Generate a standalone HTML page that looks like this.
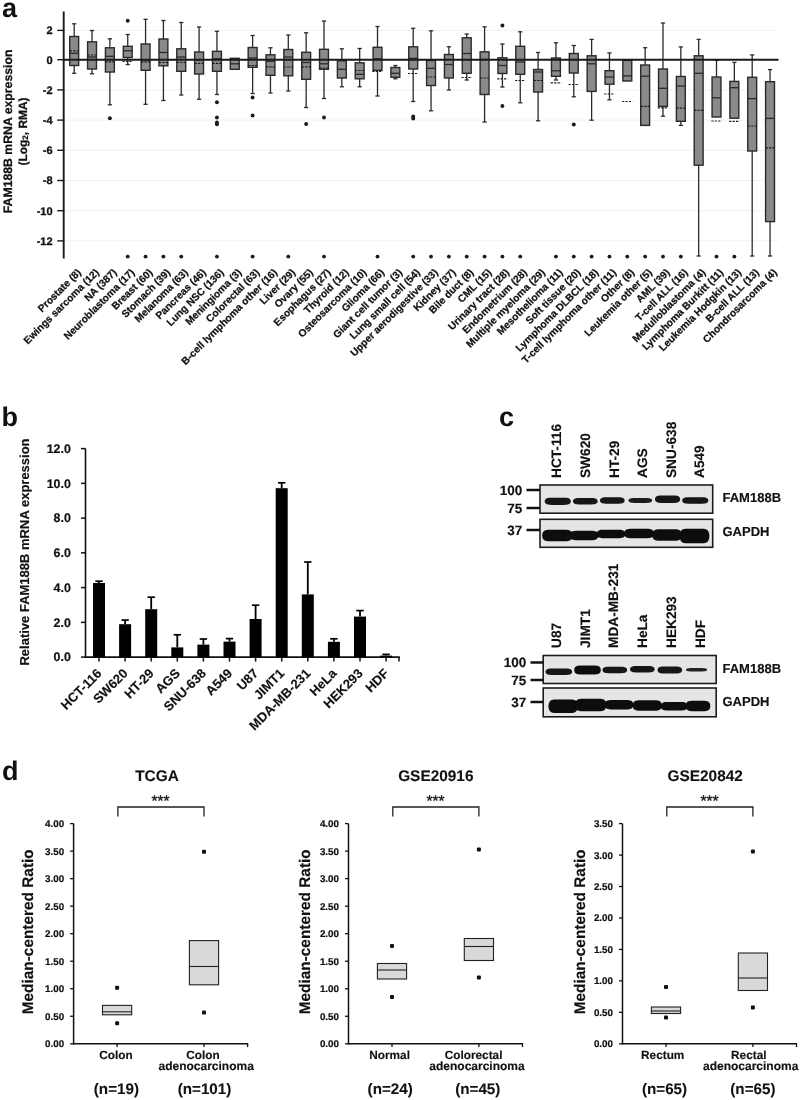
<!DOCTYPE html>
<html lang="en"><head><meta charset="utf-8"><title>FAM188B expression figure</title>
<style>
html,body{margin:0;padding:0;background:#fff;}
svg{display:block;font-family:'Liberation Sans', Arial, Helvetica, sans-serif;text-rendering:geometricPrecision;}
</style></head><body>
<svg width="800" height="1100" viewBox="0 0 800 1100">
<defs><filter id="bl" x="-10%" y="-30%" width="120%" height="160%"><feGaussianBlur stdDeviation="0.65"/></filter></defs>
<rect x="0" y="0" width="800" height="1100" fill="#ffffff"/>
<text x="2.00" y="17.20" font-size="27" font-weight="bold" text-anchor="start" fill="#111" >a</text>
<line x1="63.70" y1="30.40" x2="778.50" y2="30.40" stroke="#f1f1f1" stroke-width="1" />
<line x1="63.70" y1="89.90" x2="778.50" y2="89.90" stroke="#f1f1f1" stroke-width="1" />
<line x1="63.70" y1="120.10" x2="778.50" y2="120.10" stroke="#f1f1f1" stroke-width="1" />
<line x1="63.70" y1="150.30" x2="778.50" y2="150.30" stroke="#f1f1f1" stroke-width="1" />
<line x1="63.70" y1="180.50" x2="778.50" y2="180.50" stroke="#f1f1f1" stroke-width="1" />
<line x1="63.70" y1="210.70" x2="778.50" y2="210.70" stroke="#f1f1f1" stroke-width="1" />
<line x1="63.70" y1="240.90" x2="778.50" y2="240.90" stroke="#f1f1f1" stroke-width="1" />
<line x1="74.20" y1="23.80" x2="74.20" y2="36.50" stroke="#2a2a2a" stroke-width="1.3" />
<line x1="72.10" y1="23.80" x2="76.30" y2="23.80" stroke="#2a2a2a" stroke-width="1.3" />
<line x1="74.20" y1="65.50" x2="74.20" y2="73.30" stroke="#2a2a2a" stroke-width="1.3" />
<line x1="72.10" y1="73.30" x2="76.30" y2="73.30" stroke="#2a2a2a" stroke-width="1.3" />
<rect x="69.75" y="36.50" width="8.90" height="29.00" fill="#8a8a8a" stroke="#2a2a2a" stroke-width="1.4" />
<line x1="69.75" y1="53.30" x2="78.65" y2="53.30" stroke="#2a2a2a" stroke-width="1.3" />
<line x1="69.75" y1="50.80" x2="78.65" y2="50.80" stroke="#1a1a1a" stroke-width="1.2" stroke-dasharray="2.2 1.2"/>
<line x1="92.04" y1="30.50" x2="92.04" y2="41.80" stroke="#2a2a2a" stroke-width="1.3" />
<line x1="89.94" y1="30.50" x2="94.14" y2="30.50" stroke="#2a2a2a" stroke-width="1.3" />
<line x1="92.04" y1="69.00" x2="92.04" y2="73.80" stroke="#2a2a2a" stroke-width="1.3" />
<line x1="89.94" y1="73.80" x2="94.14" y2="73.80" stroke="#2a2a2a" stroke-width="1.3" />
<rect x="87.59" y="41.80" width="8.90" height="27.20" fill="#8a8a8a" stroke="#2a2a2a" stroke-width="1.4" />
<line x1="87.59" y1="57.00" x2="96.49" y2="57.00" stroke="#2a2a2a" stroke-width="1.3" />
<line x1="87.59" y1="55.00" x2="96.49" y2="55.00" stroke="#1a1a1a" stroke-width="1.2" stroke-dasharray="2.2 1.2"/>
<line x1="109.88" y1="38.80" x2="109.88" y2="47.80" stroke="#2a2a2a" stroke-width="1.3" />
<line x1="107.78" y1="38.80" x2="111.98" y2="38.80" stroke="#2a2a2a" stroke-width="1.3" />
<line x1="109.88" y1="72.00" x2="109.88" y2="104.80" stroke="#2a2a2a" stroke-width="1.3" />
<line x1="107.78" y1="104.80" x2="111.98" y2="104.80" stroke="#2a2a2a" stroke-width="1.3" />
<rect x="105.43" y="47.80" width="8.90" height="24.20" fill="#8a8a8a" stroke="#2a2a2a" stroke-width="1.4" />
<line x1="105.43" y1="56.30" x2="114.33" y2="56.30" stroke="#2a2a2a" stroke-width="1.3" />
<line x1="105.43" y1="61.80" x2="114.33" y2="61.80" stroke="#1a1a1a" stroke-width="1.2" stroke-dasharray="2.2 1.2"/>
<circle cx="109.88" cy="118.30" r="1.95" fill="#1a1a1a"/>
<line x1="127.73" y1="34.50" x2="127.73" y2="46.30" stroke="#2a2a2a" stroke-width="1.3" />
<line x1="125.63" y1="34.50" x2="129.83" y2="34.50" stroke="#2a2a2a" stroke-width="1.3" />
<line x1="127.73" y1="57.50" x2="127.73" y2="64.50" stroke="#2a2a2a" stroke-width="1.3" />
<line x1="125.63" y1="64.50" x2="129.83" y2="64.50" stroke="#2a2a2a" stroke-width="1.3" />
<rect x="123.28" y="46.30" width="8.90" height="11.20" fill="#8a8a8a" stroke="#2a2a2a" stroke-width="1.4" />
<line x1="123.28" y1="50.80" x2="132.18" y2="50.80" stroke="#2a2a2a" stroke-width="1.3" />
<line x1="122.53" y1="61.30" x2="132.93" y2="61.30" stroke="#1a1a1a" stroke-width="1.2" stroke-dasharray="2.2 1.2"/>
<circle cx="127.73" cy="20.80" r="1.95" fill="#1a1a1a"/>
<circle cx="127.73" cy="256.60" r="1.95" fill="#1a1a1a"/>
<line x1="145.57" y1="19.30" x2="145.57" y2="44.00" stroke="#2a2a2a" stroke-width="1.3" />
<line x1="143.47" y1="19.30" x2="147.67" y2="19.30" stroke="#2a2a2a" stroke-width="1.3" />
<line x1="145.57" y1="70.30" x2="145.57" y2="104.30" stroke="#2a2a2a" stroke-width="1.3" />
<line x1="143.47" y1="104.30" x2="147.67" y2="104.30" stroke="#2a2a2a" stroke-width="1.3" />
<rect x="141.12" y="44.00" width="8.90" height="26.30" fill="#8a8a8a" stroke="#2a2a2a" stroke-width="1.4" />
<line x1="141.12" y1="60.00" x2="150.02" y2="60.00" stroke="#2a2a2a" stroke-width="1.3" />
<line x1="141.12" y1="61.80" x2="150.02" y2="61.80" stroke="#1a1a1a" stroke-width="1.2" stroke-dasharray="2.2 1.2"/>
<circle cx="145.57" cy="256.60" r="1.95" fill="#1a1a1a"/>
<line x1="163.41" y1="20.50" x2="163.41" y2="39.00" stroke="#2a2a2a" stroke-width="1.3" />
<line x1="161.31" y1="20.50" x2="165.51" y2="20.50" stroke="#2a2a2a" stroke-width="1.3" />
<line x1="163.41" y1="65.80" x2="163.41" y2="100.50" stroke="#2a2a2a" stroke-width="1.3" />
<line x1="161.31" y1="100.50" x2="165.51" y2="100.50" stroke="#2a2a2a" stroke-width="1.3" />
<rect x="158.96" y="39.00" width="8.90" height="26.80" fill="#8a8a8a" stroke="#2a2a2a" stroke-width="1.4" />
<line x1="158.96" y1="52.50" x2="167.86" y2="52.50" stroke="#2a2a2a" stroke-width="1.3" />
<line x1="158.96" y1="62.50" x2="167.86" y2="62.50" stroke="#1a1a1a" stroke-width="1.2" stroke-dasharray="2.2 1.2"/>
<circle cx="163.41" cy="256.60" r="1.95" fill="#1a1a1a"/>
<line x1="181.25" y1="22.50" x2="181.25" y2="48.80" stroke="#2a2a2a" stroke-width="1.3" />
<line x1="179.15" y1="22.50" x2="183.35" y2="22.50" stroke="#2a2a2a" stroke-width="1.3" />
<line x1="181.25" y1="71.30" x2="181.25" y2="95.00" stroke="#2a2a2a" stroke-width="1.3" />
<line x1="179.15" y1="95.00" x2="183.35" y2="95.00" stroke="#2a2a2a" stroke-width="1.3" />
<rect x="176.80" y="48.80" width="8.90" height="22.50" fill="#8a8a8a" stroke="#2a2a2a" stroke-width="1.4" />
<line x1="176.80" y1="57.00" x2="185.70" y2="57.00" stroke="#2a2a2a" stroke-width="1.3" />
<line x1="176.80" y1="62.50" x2="185.70" y2="62.50" stroke="#1a1a1a" stroke-width="1.2" stroke-dasharray="2.2 1.2"/>
<circle cx="181.25" cy="256.60" r="1.95" fill="#1a1a1a"/>
<line x1="199.09" y1="27.00" x2="199.09" y2="52.00" stroke="#2a2a2a" stroke-width="1.3" />
<line x1="196.99" y1="27.00" x2="201.19" y2="27.00" stroke="#2a2a2a" stroke-width="1.3" />
<line x1="199.09" y1="74.00" x2="199.09" y2="99.30" stroke="#2a2a2a" stroke-width="1.3" />
<line x1="196.99" y1="99.30" x2="201.19" y2="99.30" stroke="#2a2a2a" stroke-width="1.3" />
<rect x="194.64" y="52.00" width="8.90" height="22.00" fill="#8a8a8a" stroke="#2a2a2a" stroke-width="1.4" />
<line x1="194.64" y1="60.00" x2="203.54" y2="60.00" stroke="#2a2a2a" stroke-width="1.3" />
<line x1="194.64" y1="63.30" x2="203.54" y2="63.30" stroke="#1a1a1a" stroke-width="1.2" stroke-dasharray="2.2 1.2"/>
<line x1="216.94" y1="31.30" x2="216.94" y2="51.30" stroke="#2a2a2a" stroke-width="1.3" />
<line x1="214.84" y1="31.30" x2="219.04" y2="31.30" stroke="#2a2a2a" stroke-width="1.3" />
<line x1="216.94" y1="71.30" x2="216.94" y2="94.50" stroke="#2a2a2a" stroke-width="1.3" />
<line x1="214.84" y1="94.50" x2="219.04" y2="94.50" stroke="#2a2a2a" stroke-width="1.3" />
<rect x="212.49" y="51.30" width="8.90" height="20.00" fill="#8a8a8a" stroke="#2a2a2a" stroke-width="1.4" />
<line x1="212.49" y1="58.80" x2="221.39" y2="58.80" stroke="#2a2a2a" stroke-width="1.3" />
<line x1="212.49" y1="63.30" x2="221.39" y2="63.30" stroke="#1a1a1a" stroke-width="1.2" stroke-dasharray="2.2 1.2"/>
<circle cx="216.94" cy="102.30" r="1.95" fill="#1a1a1a"/>
<circle cx="216.94" cy="117.50" r="1.95" fill="#1a1a1a"/>
<circle cx="216.94" cy="122.50" r="1.95" fill="#1a1a1a"/>
<circle cx="216.94" cy="124.30" r="1.95" fill="#1a1a1a"/>
<circle cx="216.94" cy="256.60" r="1.95" fill="#1a1a1a"/>
<rect x="230.33" y="58.30" width="8.90" height="11.00" fill="#8a8a8a" stroke="#2a2a2a" stroke-width="1.4" />
<line x1="230.33" y1="63.80" x2="239.23" y2="63.80" stroke="#2a2a2a" stroke-width="1.3" />
<line x1="252.62" y1="35.50" x2="252.62" y2="47.50" stroke="#2a2a2a" stroke-width="1.3" />
<line x1="250.52" y1="35.50" x2="254.72" y2="35.50" stroke="#2a2a2a" stroke-width="1.3" />
<line x1="252.62" y1="67.30" x2="252.62" y2="93.50" stroke="#2a2a2a" stroke-width="1.3" />
<line x1="250.52" y1="93.50" x2="254.72" y2="93.50" stroke="#2a2a2a" stroke-width="1.3" />
<rect x="248.17" y="47.50" width="8.90" height="19.80" fill="#8a8a8a" stroke="#2a2a2a" stroke-width="1.4" />
<line x1="248.17" y1="58.00" x2="257.07" y2="58.00" stroke="#2a2a2a" stroke-width="1.3" />
<line x1="248.17" y1="65.50" x2="257.07" y2="65.50" stroke="#1a1a1a" stroke-width="1.2" stroke-dasharray="2.2 1.2"/>
<circle cx="252.62" cy="97.50" r="1.95" fill="#1a1a1a"/>
<circle cx="252.62" cy="115.50" r="1.95" fill="#1a1a1a"/>
<circle cx="252.62" cy="256.60" r="1.95" fill="#1a1a1a"/>
<line x1="270.46" y1="47.80" x2="270.46" y2="54.80" stroke="#2a2a2a" stroke-width="1.3" />
<line x1="268.36" y1="47.80" x2="272.56" y2="47.80" stroke="#2a2a2a" stroke-width="1.3" />
<line x1="270.46" y1="75.30" x2="270.46" y2="93.00" stroke="#2a2a2a" stroke-width="1.3" />
<line x1="268.36" y1="93.00" x2="272.56" y2="93.00" stroke="#2a2a2a" stroke-width="1.3" />
<rect x="266.01" y="54.80" width="8.90" height="20.50" fill="#8a8a8a" stroke="#2a2a2a" stroke-width="1.4" />
<line x1="266.01" y1="61.30" x2="274.91" y2="61.30" stroke="#2a2a2a" stroke-width="1.3" />
<line x1="266.01" y1="66.80" x2="274.91" y2="66.80" stroke="#1a1a1a" stroke-width="1.2" stroke-dasharray="2.2 1.2"/>
<line x1="288.30" y1="35.00" x2="288.30" y2="49.50" stroke="#2a2a2a" stroke-width="1.3" />
<line x1="286.20" y1="35.00" x2="290.40" y2="35.00" stroke="#2a2a2a" stroke-width="1.3" />
<line x1="288.30" y1="75.80" x2="288.30" y2="91.00" stroke="#2a2a2a" stroke-width="1.3" />
<line x1="286.20" y1="91.00" x2="290.40" y2="91.00" stroke="#2a2a2a" stroke-width="1.3" />
<rect x="283.85" y="49.50" width="8.90" height="26.30" fill="#8a8a8a" stroke="#2a2a2a" stroke-width="1.4" />
<line x1="283.85" y1="57.00" x2="292.75" y2="57.00" stroke="#2a2a2a" stroke-width="1.3" />
<line x1="283.85" y1="67.00" x2="292.75" y2="67.00" stroke="#1a1a1a" stroke-width="1.2" stroke-dasharray="2.2 1.2"/>
<circle cx="288.30" cy="256.60" r="1.95" fill="#1a1a1a"/>
<line x1="306.15" y1="32.80" x2="306.15" y2="52.30" stroke="#2a2a2a" stroke-width="1.3" />
<line x1="304.05" y1="32.80" x2="308.25" y2="32.80" stroke="#2a2a2a" stroke-width="1.3" />
<line x1="306.15" y1="79.30" x2="306.15" y2="107.50" stroke="#2a2a2a" stroke-width="1.3" />
<line x1="304.05" y1="107.50" x2="308.25" y2="107.50" stroke="#2a2a2a" stroke-width="1.3" />
<rect x="301.70" y="52.30" width="8.90" height="27.00" fill="#8a8a8a" stroke="#2a2a2a" stroke-width="1.4" />
<line x1="301.70" y1="62.50" x2="310.60" y2="62.50" stroke="#2a2a2a" stroke-width="1.3" />
<line x1="301.70" y1="66.80" x2="310.60" y2="66.80" stroke="#1a1a1a" stroke-width="1.2" stroke-dasharray="2.2 1.2"/>
<circle cx="306.15" cy="124.00" r="1.95" fill="#1a1a1a"/>
<line x1="323.99" y1="21.00" x2="323.99" y2="49.30" stroke="#2a2a2a" stroke-width="1.3" />
<line x1="321.89" y1="21.00" x2="326.09" y2="21.00" stroke="#2a2a2a" stroke-width="1.3" />
<line x1="323.99" y1="69.30" x2="323.99" y2="98.50" stroke="#2a2a2a" stroke-width="1.3" />
<line x1="321.89" y1="98.50" x2="326.09" y2="98.50" stroke="#2a2a2a" stroke-width="1.3" />
<rect x="319.54" y="49.30" width="8.90" height="20.00" fill="#8a8a8a" stroke="#2a2a2a" stroke-width="1.4" />
<line x1="319.54" y1="63.80" x2="328.44" y2="63.80" stroke="#2a2a2a" stroke-width="1.3" />
<line x1="319.54" y1="68.00" x2="328.44" y2="68.00" stroke="#1a1a1a" stroke-width="1.2" stroke-dasharray="2.2 1.2"/>
<circle cx="323.99" cy="117.50" r="1.95" fill="#1a1a1a"/>
<circle cx="323.99" cy="256.60" r="1.95" fill="#1a1a1a"/>
<line x1="341.83" y1="48.80" x2="341.83" y2="60.80" stroke="#2a2a2a" stroke-width="1.3" />
<line x1="339.73" y1="48.80" x2="343.93" y2="48.80" stroke="#2a2a2a" stroke-width="1.3" />
<line x1="341.83" y1="78.00" x2="341.83" y2="86.80" stroke="#2a2a2a" stroke-width="1.3" />
<line x1="339.73" y1="86.80" x2="343.93" y2="86.80" stroke="#2a2a2a" stroke-width="1.3" />
<rect x="337.38" y="60.80" width="8.90" height="17.20" fill="#8a8a8a" stroke="#2a2a2a" stroke-width="1.4" />
<line x1="337.38" y1="69.30" x2="346.28" y2="69.30" stroke="#2a2a2a" stroke-width="1.3" />
<line x1="359.67" y1="48.50" x2="359.67" y2="62.80" stroke="#2a2a2a" stroke-width="1.3" />
<line x1="357.57" y1="48.50" x2="361.77" y2="48.50" stroke="#2a2a2a" stroke-width="1.3" />
<line x1="359.67" y1="78.80" x2="359.67" y2="86.80" stroke="#2a2a2a" stroke-width="1.3" />
<line x1="357.57" y1="86.80" x2="361.77" y2="86.80" stroke="#2a2a2a" stroke-width="1.3" />
<rect x="355.22" y="62.80" width="8.90" height="16.00" fill="#8a8a8a" stroke="#2a2a2a" stroke-width="1.4" />
<line x1="355.22" y1="74.30" x2="364.12" y2="74.30" stroke="#2a2a2a" stroke-width="1.3" />
<line x1="355.22" y1="70.50" x2="364.12" y2="70.50" stroke="#1a1a1a" stroke-width="1.2" stroke-dasharray="2.2 1.2"/>
<line x1="377.51" y1="26.50" x2="377.51" y2="47.30" stroke="#2a2a2a" stroke-width="1.3" />
<line x1="375.41" y1="26.50" x2="379.61" y2="26.50" stroke="#2a2a2a" stroke-width="1.3" />
<line x1="377.51" y1="70.30" x2="377.51" y2="96.00" stroke="#2a2a2a" stroke-width="1.3" />
<line x1="375.41" y1="96.00" x2="379.61" y2="96.00" stroke="#2a2a2a" stroke-width="1.3" />
<rect x="373.06" y="47.30" width="8.90" height="23.00" fill="#8a8a8a" stroke="#2a2a2a" stroke-width="1.4" />
<line x1="373.06" y1="58.80" x2="381.96" y2="58.80" stroke="#2a2a2a" stroke-width="1.3" />
<line x1="372.31" y1="71.30" x2="382.71" y2="71.30" stroke="#1a1a1a" stroke-width="1.2" stroke-dasharray="2.2 1.2"/>
<circle cx="377.51" cy="256.60" r="1.95" fill="#1a1a1a"/>
<line x1="395.36" y1="65.50" x2="395.36" y2="67.50" stroke="#2a2a2a" stroke-width="1.3" />
<line x1="393.26" y1="65.50" x2="397.46" y2="65.50" stroke="#2a2a2a" stroke-width="1.3" />
<line x1="395.36" y1="77.30" x2="395.36" y2="78.80" stroke="#2a2a2a" stroke-width="1.3" />
<line x1="393.26" y1="78.80" x2="397.46" y2="78.80" stroke="#2a2a2a" stroke-width="1.3" />
<rect x="390.91" y="67.50" width="8.90" height="9.80" fill="#8a8a8a" stroke="#2a2a2a" stroke-width="1.4" />
<line x1="390.91" y1="73.30" x2="399.81" y2="73.30" stroke="#2a2a2a" stroke-width="1.3" />
<line x1="413.20" y1="28.30" x2="413.20" y2="46.80" stroke="#2a2a2a" stroke-width="1.3" />
<line x1="411.10" y1="28.30" x2="415.30" y2="28.30" stroke="#2a2a2a" stroke-width="1.3" />
<line x1="413.20" y1="69.00" x2="413.20" y2="101.50" stroke="#2a2a2a" stroke-width="1.3" />
<line x1="411.10" y1="101.50" x2="415.30" y2="101.50" stroke="#2a2a2a" stroke-width="1.3" />
<rect x="408.75" y="46.80" width="8.90" height="22.20" fill="#8a8a8a" stroke="#2a2a2a" stroke-width="1.4" />
<line x1="408.75" y1="58.30" x2="417.65" y2="58.30" stroke="#2a2a2a" stroke-width="1.3" />
<line x1="408.00" y1="73.50" x2="418.40" y2="73.50" stroke="#1a1a1a" stroke-width="1.2" stroke-dasharray="2.2 1.2"/>
<circle cx="413.20" cy="116.50" r="1.95" fill="#1a1a1a"/>
<circle cx="413.20" cy="118.50" r="1.95" fill="#1a1a1a"/>
<circle cx="413.20" cy="256.60" r="1.95" fill="#1a1a1a"/>
<line x1="431.04" y1="30.80" x2="431.04" y2="60.50" stroke="#2a2a2a" stroke-width="1.3" />
<line x1="428.94" y1="30.80" x2="433.14" y2="30.80" stroke="#2a2a2a" stroke-width="1.3" />
<line x1="431.04" y1="85.50" x2="431.04" y2="110.80" stroke="#2a2a2a" stroke-width="1.3" />
<line x1="428.94" y1="110.80" x2="433.14" y2="110.80" stroke="#2a2a2a" stroke-width="1.3" />
<rect x="426.59" y="60.50" width="8.90" height="25.00" fill="#8a8a8a" stroke="#2a2a2a" stroke-width="1.4" />
<line x1="426.59" y1="68.30" x2="435.49" y2="68.30" stroke="#2a2a2a" stroke-width="1.3" />
<line x1="426.59" y1="77.00" x2="435.49" y2="77.00" stroke="#1a1a1a" stroke-width="1.2" stroke-dasharray="2.2 1.2"/>
<circle cx="431.04" cy="256.60" r="1.95" fill="#1a1a1a"/>
<line x1="448.88" y1="46.80" x2="448.88" y2="54.50" stroke="#2a2a2a" stroke-width="1.3" />
<line x1="446.78" y1="46.80" x2="450.98" y2="46.80" stroke="#2a2a2a" stroke-width="1.3" />
<line x1="448.88" y1="78.00" x2="448.88" y2="90.00" stroke="#2a2a2a" stroke-width="1.3" />
<line x1="446.78" y1="90.00" x2="450.98" y2="90.00" stroke="#2a2a2a" stroke-width="1.3" />
<rect x="444.43" y="54.50" width="8.90" height="23.50" fill="#8a8a8a" stroke="#2a2a2a" stroke-width="1.4" />
<line x1="444.43" y1="64.50" x2="453.33" y2="64.50" stroke="#2a2a2a" stroke-width="1.3" />
<circle cx="448.88" cy="256.60" r="1.95" fill="#1a1a1a"/>
<line x1="466.72" y1="34.00" x2="466.72" y2="37.80" stroke="#2a2a2a" stroke-width="1.3" />
<line x1="464.62" y1="34.00" x2="468.82" y2="34.00" stroke="#2a2a2a" stroke-width="1.3" />
<line x1="466.72" y1="73.30" x2="466.72" y2="80.00" stroke="#2a2a2a" stroke-width="1.3" />
<line x1="464.62" y1="80.00" x2="468.82" y2="80.00" stroke="#2a2a2a" stroke-width="1.3" />
<rect x="462.27" y="37.80" width="8.90" height="35.50" fill="#8a8a8a" stroke="#2a2a2a" stroke-width="1.4" />
<line x1="462.27" y1="53.50" x2="471.17" y2="53.50" stroke="#2a2a2a" stroke-width="1.3" />
<line x1="461.52" y1="77.50" x2="471.92" y2="77.50" stroke="#1a1a1a" stroke-width="1.2" stroke-dasharray="2.2 1.2"/>
<circle cx="466.72" cy="256.60" r="1.95" fill="#1a1a1a"/>
<line x1="484.57" y1="26.80" x2="484.57" y2="51.80" stroke="#2a2a2a" stroke-width="1.3" />
<line x1="482.47" y1="26.80" x2="486.67" y2="26.80" stroke="#2a2a2a" stroke-width="1.3" />
<line x1="484.57" y1="94.50" x2="484.57" y2="122.00" stroke="#2a2a2a" stroke-width="1.3" />
<line x1="482.47" y1="122.00" x2="486.67" y2="122.00" stroke="#2a2a2a" stroke-width="1.3" />
<rect x="480.12" y="51.80" width="8.90" height="42.70" fill="#8a8a8a" stroke="#2a2a2a" stroke-width="1.4" />
<line x1="480.12" y1="59.50" x2="489.02" y2="59.50" stroke="#2a2a2a" stroke-width="1.3" />
<line x1="480.12" y1="78.00" x2="489.02" y2="78.00" stroke="#1a1a1a" stroke-width="1.2" stroke-dasharray="2.2 1.2"/>
<circle cx="484.57" cy="256.60" r="1.95" fill="#1a1a1a"/>
<line x1="502.41" y1="44.00" x2="502.41" y2="57.80" stroke="#2a2a2a" stroke-width="1.3" />
<line x1="500.31" y1="44.00" x2="504.51" y2="44.00" stroke="#2a2a2a" stroke-width="1.3" />
<line x1="502.41" y1="73.50" x2="502.41" y2="87.00" stroke="#2a2a2a" stroke-width="1.3" />
<line x1="500.31" y1="87.00" x2="504.51" y2="87.00" stroke="#2a2a2a" stroke-width="1.3" />
<rect x="497.96" y="57.80" width="8.90" height="15.70" fill="#8a8a8a" stroke="#2a2a2a" stroke-width="1.4" />
<line x1="497.96" y1="65.50" x2="506.86" y2="65.50" stroke="#2a2a2a" stroke-width="1.3" />
<line x1="497.21" y1="78.80" x2="507.61" y2="78.80" stroke="#1a1a1a" stroke-width="1.2" stroke-dasharray="2.2 1.2"/>
<circle cx="502.41" cy="25.50" r="1.95" fill="#1a1a1a"/>
<circle cx="502.41" cy="106.00" r="1.95" fill="#1a1a1a"/>
<circle cx="502.41" cy="256.60" r="1.95" fill="#1a1a1a"/>
<line x1="520.25" y1="31.80" x2="520.25" y2="46.30" stroke="#2a2a2a" stroke-width="1.3" />
<line x1="518.15" y1="31.80" x2="522.35" y2="31.80" stroke="#2a2a2a" stroke-width="1.3" />
<line x1="520.25" y1="74.30" x2="520.25" y2="102.80" stroke="#2a2a2a" stroke-width="1.3" />
<line x1="518.15" y1="102.80" x2="522.35" y2="102.80" stroke="#2a2a2a" stroke-width="1.3" />
<rect x="515.80" y="46.30" width="8.90" height="28.00" fill="#8a8a8a" stroke="#2a2a2a" stroke-width="1.4" />
<line x1="515.80" y1="62.00" x2="524.70" y2="62.00" stroke="#2a2a2a" stroke-width="1.3" />
<line x1="515.05" y1="80.50" x2="525.45" y2="80.50" stroke="#1a1a1a" stroke-width="1.2" stroke-dasharray="2.2 1.2"/>
<circle cx="520.25" cy="256.60" r="1.95" fill="#1a1a1a"/>
<line x1="538.09" y1="52.50" x2="538.09" y2="69.50" stroke="#2a2a2a" stroke-width="1.3" />
<line x1="535.99" y1="52.50" x2="540.19" y2="52.50" stroke="#2a2a2a" stroke-width="1.3" />
<line x1="538.09" y1="92.00" x2="538.09" y2="120.80" stroke="#2a2a2a" stroke-width="1.3" />
<line x1="535.99" y1="120.80" x2="540.19" y2="120.80" stroke="#2a2a2a" stroke-width="1.3" />
<rect x="533.64" y="69.50" width="8.90" height="22.50" fill="#8a8a8a" stroke="#2a2a2a" stroke-width="1.4" />
<line x1="533.64" y1="72.00" x2="542.54" y2="72.00" stroke="#2a2a2a" stroke-width="1.3" />
<line x1="533.64" y1="80.50" x2="542.54" y2="80.50" stroke="#1a1a1a" stroke-width="1.2" stroke-dasharray="2.2 1.2"/>
<line x1="555.93" y1="42.80" x2="555.93" y2="58.00" stroke="#2a2a2a" stroke-width="1.3" />
<line x1="553.83" y1="42.80" x2="558.03" y2="42.80" stroke="#2a2a2a" stroke-width="1.3" />
<line x1="555.93" y1="76.30" x2="555.93" y2="80.00" stroke="#2a2a2a" stroke-width="1.3" />
<line x1="553.83" y1="80.00" x2="558.03" y2="80.00" stroke="#2a2a2a" stroke-width="1.3" />
<rect x="551.48" y="58.00" width="8.90" height="18.30" fill="#8a8a8a" stroke="#2a2a2a" stroke-width="1.4" />
<line x1="551.48" y1="70.80" x2="560.38" y2="70.80" stroke="#2a2a2a" stroke-width="1.3" />
<line x1="550.73" y1="82.80" x2="561.13" y2="82.80" stroke="#1a1a1a" stroke-width="1.2" stroke-dasharray="2.2 1.2"/>
<circle cx="555.93" cy="256.60" r="1.95" fill="#1a1a1a"/>
<line x1="573.78" y1="45.50" x2="573.78" y2="53.50" stroke="#2a2a2a" stroke-width="1.3" />
<line x1="571.68" y1="45.50" x2="575.88" y2="45.50" stroke="#2a2a2a" stroke-width="1.3" />
<line x1="573.78" y1="73.00" x2="573.78" y2="96.80" stroke="#2a2a2a" stroke-width="1.3" />
<line x1="571.68" y1="96.80" x2="575.88" y2="96.80" stroke="#2a2a2a" stroke-width="1.3" />
<rect x="569.33" y="53.50" width="8.90" height="19.50" fill="#8a8a8a" stroke="#2a2a2a" stroke-width="1.4" />
<line x1="569.33" y1="59.50" x2="578.23" y2="59.50" stroke="#2a2a2a" stroke-width="1.3" />
<line x1="568.58" y1="84.50" x2="578.98" y2="84.50" stroke="#1a1a1a" stroke-width="1.2" stroke-dasharray="2.2 1.2"/>
<circle cx="573.78" cy="124.50" r="1.95" fill="#1a1a1a"/>
<circle cx="573.78" cy="256.60" r="1.95" fill="#1a1a1a"/>
<line x1="591.62" y1="39.40" x2="591.62" y2="55.80" stroke="#2a2a2a" stroke-width="1.3" />
<line x1="589.52" y1="39.40" x2="593.72" y2="39.40" stroke="#2a2a2a" stroke-width="1.3" />
<line x1="591.62" y1="91.40" x2="591.62" y2="120.20" stroke="#2a2a2a" stroke-width="1.3" />
<line x1="589.52" y1="120.20" x2="593.72" y2="120.20" stroke="#2a2a2a" stroke-width="1.3" />
<rect x="587.17" y="55.80" width="8.90" height="35.60" fill="#8a8a8a" stroke="#2a2a2a" stroke-width="1.4" />
<line x1="587.17" y1="63.80" x2="596.07" y2="63.80" stroke="#2a2a2a" stroke-width="1.3" />
<circle cx="591.62" cy="256.60" r="1.95" fill="#1a1a1a"/>
<line x1="609.46" y1="52.90" x2="609.46" y2="70.70" stroke="#2a2a2a" stroke-width="1.3" />
<line x1="607.36" y1="52.90" x2="611.56" y2="52.90" stroke="#2a2a2a" stroke-width="1.3" />
<line x1="609.46" y1="84.20" x2="609.46" y2="99.80" stroke="#2a2a2a" stroke-width="1.3" />
<line x1="607.36" y1="99.80" x2="611.56" y2="99.80" stroke="#2a2a2a" stroke-width="1.3" />
<rect x="605.01" y="70.70" width="8.90" height="13.50" fill="#8a8a8a" stroke="#2a2a2a" stroke-width="1.4" />
<line x1="605.01" y1="77.00" x2="613.91" y2="77.00" stroke="#2a2a2a" stroke-width="1.3" />
<line x1="604.26" y1="94.00" x2="614.66" y2="94.00" stroke="#1a1a1a" stroke-width="1.2" stroke-dasharray="2.2 1.2"/>
<circle cx="609.46" cy="256.60" r="1.95" fill="#1a1a1a"/>
<rect x="622.85" y="60.40" width="8.90" height="20.60" fill="#8a8a8a" stroke="#2a2a2a" stroke-width="1.4" />
<line x1="622.85" y1="75.90" x2="631.75" y2="75.90" stroke="#2a2a2a" stroke-width="1.3" />
<line x1="622.10" y1="101.50" x2="632.50" y2="101.50" stroke="#1a1a1a" stroke-width="1.2" stroke-dasharray="2.2 1.2"/>
<circle cx="627.30" cy="256.60" r="1.95" fill="#1a1a1a"/>
<line x1="645.14" y1="47.70" x2="645.14" y2="65.00" stroke="#2a2a2a" stroke-width="1.3" />
<line x1="643.04" y1="47.70" x2="647.24" y2="47.70" stroke="#2a2a2a" stroke-width="1.3" />
<rect x="640.69" y="65.00" width="8.90" height="60.40" fill="#8a8a8a" stroke="#2a2a2a" stroke-width="1.4" />
<line x1="640.69" y1="76.20" x2="649.59" y2="76.20" stroke="#2a2a2a" stroke-width="1.3" />
<line x1="640.69" y1="106.40" x2="649.59" y2="106.40" stroke="#1a1a1a" stroke-width="1.2" stroke-dasharray="2.2 1.2"/>
<circle cx="645.14" cy="256.60" r="1.95" fill="#1a1a1a"/>
<line x1="662.99" y1="23.00" x2="662.99" y2="69.00" stroke="#2a2a2a" stroke-width="1.3" />
<line x1="660.89" y1="23.00" x2="665.09" y2="23.00" stroke="#2a2a2a" stroke-width="1.3" />
<line x1="662.99" y1="106.40" x2="662.99" y2="116.20" stroke="#2a2a2a" stroke-width="1.3" />
<line x1="660.89" y1="116.20" x2="665.09" y2="116.20" stroke="#2a2a2a" stroke-width="1.3" />
<rect x="658.54" y="69.00" width="8.90" height="37.40" fill="#8a8a8a" stroke="#2a2a2a" stroke-width="1.4" />
<line x1="658.54" y1="88.30" x2="667.44" y2="88.30" stroke="#2a2a2a" stroke-width="1.3" />
<line x1="657.79" y1="107.80" x2="668.19" y2="107.80" stroke="#1a1a1a" stroke-width="1.2" stroke-dasharray="2.2 1.2"/>
<circle cx="662.99" cy="256.60" r="1.95" fill="#1a1a1a"/>
<line x1="680.83" y1="46.90" x2="680.83" y2="76.50" stroke="#2a2a2a" stroke-width="1.3" />
<line x1="678.73" y1="46.90" x2="682.93" y2="46.90" stroke="#2a2a2a" stroke-width="1.3" />
<line x1="680.83" y1="121.30" x2="680.83" y2="125.40" stroke="#2a2a2a" stroke-width="1.3" />
<line x1="678.73" y1="125.40" x2="682.93" y2="125.40" stroke="#2a2a2a" stroke-width="1.3" />
<rect x="676.38" y="76.50" width="8.90" height="44.80" fill="#8a8a8a" stroke="#2a2a2a" stroke-width="1.4" />
<line x1="676.38" y1="86.00" x2="685.28" y2="86.00" stroke="#2a2a2a" stroke-width="1.3" />
<line x1="676.38" y1="108.10" x2="685.28" y2="108.10" stroke="#1a1a1a" stroke-width="1.2" stroke-dasharray="2.2 1.2"/>
<circle cx="680.83" cy="256.60" r="1.95" fill="#1a1a1a"/>
<line x1="698.67" y1="39.40" x2="698.67" y2="55.80" stroke="#2a2a2a" stroke-width="1.3" />
<line x1="696.57" y1="39.40" x2="700.77" y2="39.40" stroke="#2a2a2a" stroke-width="1.3" />
<line x1="698.67" y1="165.20" x2="698.67" y2="256.00" stroke="#2a2a2a" stroke-width="1.3" />
<line x1="696.57" y1="256.00" x2="700.77" y2="256.00" stroke="#2a2a2a" stroke-width="1.3" />
<rect x="694.22" y="55.80" width="8.90" height="109.40" fill="#8a8a8a" stroke="#2a2a2a" stroke-width="1.4" />
<line x1="694.22" y1="73.30" x2="703.12" y2="73.30" stroke="#2a2a2a" stroke-width="1.3" />
<line x1="694.22" y1="110.40" x2="703.12" y2="110.40" stroke="#1a1a1a" stroke-width="1.2" stroke-dasharray="2.2 1.2"/>
<line x1="716.51" y1="60.40" x2="716.51" y2="77.00" stroke="#2a2a2a" stroke-width="1.3" />
<line x1="714.41" y1="60.40" x2="718.61" y2="60.40" stroke="#2a2a2a" stroke-width="1.3" />
<rect x="712.06" y="77.00" width="8.90" height="40.00" fill="#8a8a8a" stroke="#2a2a2a" stroke-width="1.4" />
<line x1="712.06" y1="97.80" x2="720.96" y2="97.80" stroke="#2a2a2a" stroke-width="1.3" />
<line x1="711.31" y1="121.00" x2="721.71" y2="121.00" stroke="#1a1a1a" stroke-width="1.2" stroke-dasharray="2.2 1.2"/>
<circle cx="716.51" cy="256.60" r="1.95" fill="#1a1a1a"/>
<line x1="734.35" y1="62.40" x2="734.35" y2="81.40" stroke="#2a2a2a" stroke-width="1.3" />
<line x1="732.25" y1="62.40" x2="736.45" y2="62.40" stroke="#2a2a2a" stroke-width="1.3" />
<rect x="729.90" y="81.40" width="8.90" height="36.80" fill="#8a8a8a" stroke="#2a2a2a" stroke-width="1.4" />
<line x1="729.90" y1="87.70" x2="738.80" y2="87.70" stroke="#2a2a2a" stroke-width="1.3" />
<line x1="729.15" y1="121.30" x2="739.55" y2="121.30" stroke="#1a1a1a" stroke-width="1.2" stroke-dasharray="2.2 1.2"/>
<circle cx="734.35" cy="256.60" r="1.95" fill="#1a1a1a"/>
<line x1="752.20" y1="54.90" x2="752.20" y2="77.30" stroke="#2a2a2a" stroke-width="1.3" />
<line x1="750.10" y1="54.90" x2="754.30" y2="54.90" stroke="#2a2a2a" stroke-width="1.3" />
<line x1="752.20" y1="151.00" x2="752.20" y2="256.00" stroke="#2a2a2a" stroke-width="1.3" />
<line x1="750.10" y1="256.00" x2="754.30" y2="256.00" stroke="#2a2a2a" stroke-width="1.3" />
<rect x="747.75" y="77.30" width="8.90" height="73.70" fill="#8a8a8a" stroke="#2a2a2a" stroke-width="1.4" />
<line x1="747.75" y1="98.60" x2="756.65" y2="98.60" stroke="#2a2a2a" stroke-width="1.3" />
<line x1="747.75" y1="126.00" x2="756.65" y2="126.00" stroke="#1a1a1a" stroke-width="1.2" stroke-dasharray="2.2 1.2"/>
<line x1="770.04" y1="69.60" x2="770.04" y2="81.70" stroke="#2a2a2a" stroke-width="1.3" />
<line x1="767.94" y1="69.60" x2="772.14" y2="69.60" stroke="#2a2a2a" stroke-width="1.3" />
<line x1="770.04" y1="221.60" x2="770.04" y2="256.00" stroke="#2a2a2a" stroke-width="1.3" />
<line x1="767.94" y1="256.00" x2="772.14" y2="256.00" stroke="#2a2a2a" stroke-width="1.3" />
<rect x="765.59" y="81.70" width="8.90" height="139.90" fill="#8a8a8a" stroke="#2a2a2a" stroke-width="1.4" />
<line x1="765.59" y1="118.40" x2="774.49" y2="118.40" stroke="#2a2a2a" stroke-width="1.3" />
<line x1="765.59" y1="147.80" x2="774.49" y2="147.80" stroke="#1a1a1a" stroke-width="1.2" stroke-dasharray="2.2 1.2"/>
<line x1="63.70" y1="59.70" x2="778.50" y2="59.70" stroke="#1a1a1a" stroke-width="2.0" />
<line x1="63.70" y1="11.50" x2="63.70" y2="258.50" stroke="#1a1a1a" stroke-width="1.9" />
<line x1="57.20" y1="30.40" x2="63.70" y2="30.40" stroke="#1a1a1a" stroke-width="1.4" />
<text x="52.60" y="34.30" font-size="11" font-weight="bold" text-anchor="end" fill="#111"  stroke="#111" stroke-width="0.3">2</text>
<line x1="57.20" y1="59.70" x2="63.70" y2="59.70" stroke="#1a1a1a" stroke-width="1.4" />
<text x="52.60" y="63.60" font-size="11" font-weight="bold" text-anchor="end" fill="#111"  stroke="#111" stroke-width="0.3">0</text>
<line x1="57.20" y1="89.90" x2="63.70" y2="89.90" stroke="#1a1a1a" stroke-width="1.4" />
<text x="52.60" y="93.80" font-size="11" font-weight="bold" text-anchor="end" fill="#111"  stroke="#111" stroke-width="0.3">-2</text>
<line x1="57.20" y1="120.10" x2="63.70" y2="120.10" stroke="#1a1a1a" stroke-width="1.4" />
<text x="52.60" y="124.00" font-size="11" font-weight="bold" text-anchor="end" fill="#111"  stroke="#111" stroke-width="0.3">-4</text>
<line x1="57.20" y1="150.30" x2="63.70" y2="150.30" stroke="#1a1a1a" stroke-width="1.4" />
<text x="52.60" y="154.20" font-size="11" font-weight="bold" text-anchor="end" fill="#111"  stroke="#111" stroke-width="0.3">-6</text>
<line x1="57.20" y1="180.50" x2="63.70" y2="180.50" stroke="#1a1a1a" stroke-width="1.4" />
<text x="52.60" y="184.40" font-size="11" font-weight="bold" text-anchor="end" fill="#111"  stroke="#111" stroke-width="0.3">-8</text>
<line x1="57.20" y1="210.70" x2="63.70" y2="210.70" stroke="#1a1a1a" stroke-width="1.4" />
<text x="52.60" y="214.60" font-size="11" font-weight="bold" text-anchor="end" fill="#111"  stroke="#111" stroke-width="0.3">-10</text>
<line x1="57.20" y1="240.90" x2="63.70" y2="240.90" stroke="#1a1a1a" stroke-width="1.4" />
<text x="52.60" y="244.80" font-size="11" font-weight="bold" text-anchor="end" fill="#111"  stroke="#111" stroke-width="0.3">-12</text>
<text x="12.00" y="131.40" font-size="12.25" font-weight="bold" text-anchor="middle" fill="#111" transform="rotate(-90 12.00 131.40)"  stroke="#111" stroke-width="0.25">FAM188B mRNA expression</text>
<text x="26.70" y="131.50" font-size="11.95" font-weight="bold" text-anchor="middle" fill="#111" transform="rotate(-90 26.70 131.50)"  stroke="#111" stroke-width="0.25">(Log<tspan font-size="8" dy="1.5">2</tspan><tspan dy="-1.5">, RMA)</tspan></text>
<text x="81.70" y="273.00" font-size="10.2" font-weight="bold" text-anchor="end" fill="#111" transform="rotate(-45 81.70 273.00)"  stroke="#111" stroke-width="0.25">Prostate (8)</text>
<text x="99.54" y="273.00" font-size="10.2" font-weight="bold" text-anchor="end" fill="#111" transform="rotate(-45 99.54 273.00)"  stroke="#111" stroke-width="0.25">Ewings sarcoma (12)</text>
<text x="117.38" y="273.00" font-size="10.2" font-weight="bold" text-anchor="end" fill="#111" transform="rotate(-45 117.38 273.00)"  stroke="#111" stroke-width="0.25">NA (387)</text>
<text x="135.23" y="273.00" font-size="10.2" font-weight="bold" text-anchor="end" fill="#111" transform="rotate(-45 135.23 273.00)"  stroke="#111" stroke-width="0.25">Neuroblastoma (17)</text>
<text x="153.07" y="273.00" font-size="10.2" font-weight="bold" text-anchor="end" fill="#111" transform="rotate(-45 153.07 273.00)"  stroke="#111" stroke-width="0.25">Breast (60)</text>
<text x="170.91" y="273.00" font-size="10.2" font-weight="bold" text-anchor="end" fill="#111" transform="rotate(-45 170.91 273.00)"  stroke="#111" stroke-width="0.25">Stomach (39)</text>
<text x="188.75" y="273.00" font-size="10.2" font-weight="bold" text-anchor="end" fill="#111" transform="rotate(-45 188.75 273.00)"  stroke="#111" stroke-width="0.25">Melanoma (63)</text>
<text x="206.59" y="273.00" font-size="10.2" font-weight="bold" text-anchor="end" fill="#111" transform="rotate(-45 206.59 273.00)"  stroke="#111" stroke-width="0.25">Pancreas (46)</text>
<text x="224.44" y="273.00" font-size="10.2" font-weight="bold" text-anchor="end" fill="#111" transform="rotate(-45 224.44 273.00)"  stroke="#111" stroke-width="0.25">Lung NSC (136)</text>
<text x="242.28" y="273.00" font-size="10.2" font-weight="bold" text-anchor="end" fill="#111" transform="rotate(-45 242.28 273.00)"  stroke="#111" stroke-width="0.25">Meningioma (3)</text>
<text x="260.12" y="273.00" font-size="10.2" font-weight="bold" text-anchor="end" fill="#111" transform="rotate(-45 260.12 273.00)"  stroke="#111" stroke-width="0.25">Colorectal (63)</text>
<text x="277.96" y="273.00" font-size="10.2" font-weight="bold" text-anchor="end" fill="#111" transform="rotate(-45 277.96 273.00)"  stroke="#111" stroke-width="0.25">B-cell lymphoma other (16)</text>
<text x="295.80" y="273.00" font-size="10.2" font-weight="bold" text-anchor="end" fill="#111" transform="rotate(-45 295.80 273.00)"  stroke="#111" stroke-width="0.25">Liver (29)</text>
<text x="313.65" y="273.00" font-size="10.2" font-weight="bold" text-anchor="end" fill="#111" transform="rotate(-45 313.65 273.00)"  stroke="#111" stroke-width="0.25">Ovary (55)</text>
<text x="331.49" y="273.00" font-size="10.2" font-weight="bold" text-anchor="end" fill="#111" transform="rotate(-45 331.49 273.00)"  stroke="#111" stroke-width="0.25">Esophagus (27)</text>
<text x="349.33" y="273.00" font-size="10.2" font-weight="bold" text-anchor="end" fill="#111" transform="rotate(-45 349.33 273.00)"  stroke="#111" stroke-width="0.25">Thyroid (12)</text>
<text x="367.17" y="273.00" font-size="10.2" font-weight="bold" text-anchor="end" fill="#111" transform="rotate(-45 367.17 273.00)"  stroke="#111" stroke-width="0.25">Osteosarcoma (10)</text>
<text x="385.01" y="273.00" font-size="10.2" font-weight="bold" text-anchor="end" fill="#111" transform="rotate(-45 385.01 273.00)"  stroke="#111" stroke-width="0.25">Glioma (66)</text>
<text x="402.86" y="273.00" font-size="10.2" font-weight="bold" text-anchor="end" fill="#111" transform="rotate(-45 402.86 273.00)"  stroke="#111" stroke-width="0.25">Giant cell tumor (3)</text>
<text x="420.70" y="273.00" font-size="10.2" font-weight="bold" text-anchor="end" fill="#111" transform="rotate(-45 420.70 273.00)"  stroke="#111" stroke-width="0.25">Lung small cell (54)</text>
<text x="438.54" y="273.00" font-size="10.2" font-weight="bold" text-anchor="end" fill="#111" transform="rotate(-45 438.54 273.00)"  stroke="#111" stroke-width="0.25">Upper aerodigestive (33)</text>
<text x="456.38" y="273.00" font-size="10.2" font-weight="bold" text-anchor="end" fill="#111" transform="rotate(-45 456.38 273.00)"  stroke="#111" stroke-width="0.25">Kidney (37)</text>
<text x="474.22" y="273.00" font-size="10.2" font-weight="bold" text-anchor="end" fill="#111" transform="rotate(-45 474.22 273.00)"  stroke="#111" stroke-width="0.25">Bile duct (8)</text>
<text x="492.07" y="273.00" font-size="10.2" font-weight="bold" text-anchor="end" fill="#111" transform="rotate(-45 492.07 273.00)"  stroke="#111" stroke-width="0.25">CML (15)</text>
<text x="509.91" y="273.00" font-size="10.2" font-weight="bold" text-anchor="end" fill="#111" transform="rotate(-45 509.91 273.00)"  stroke="#111" stroke-width="0.25">Urinary tract (28)</text>
<text x="527.75" y="273.00" font-size="10.2" font-weight="bold" text-anchor="end" fill="#111" transform="rotate(-45 527.75 273.00)"  stroke="#111" stroke-width="0.25">Endometrium (28)</text>
<text x="545.59" y="273.00" font-size="10.2" font-weight="bold" text-anchor="end" fill="#111" transform="rotate(-45 545.59 273.00)"  stroke="#111" stroke-width="0.25">Multiple myeloma (29)</text>
<text x="563.43" y="273.00" font-size="10.2" font-weight="bold" text-anchor="end" fill="#111" transform="rotate(-45 563.43 273.00)"  stroke="#111" stroke-width="0.25">Mesothelioma (11)</text>
<text x="581.28" y="273.00" font-size="10.2" font-weight="bold" text-anchor="end" fill="#111" transform="rotate(-45 581.28 273.00)"  stroke="#111" stroke-width="0.25">Soft tissue (20)</text>
<text x="599.12" y="273.00" font-size="10.2" font-weight="bold" text-anchor="end" fill="#111" transform="rotate(-45 599.12 273.00)"  stroke="#111" stroke-width="0.25">Lymphoma DLBCL (18)</text>
<text x="616.96" y="273.00" font-size="10.2" font-weight="bold" text-anchor="end" fill="#111" transform="rotate(-45 616.96 273.00)"  stroke="#111" stroke-width="0.25">T-cell lymphoma other (11)</text>
<text x="634.80" y="273.00" font-size="10.2" font-weight="bold" text-anchor="end" fill="#111" transform="rotate(-45 634.80 273.00)"  stroke="#111" stroke-width="0.25">Other (8)</text>
<text x="652.64" y="273.00" font-size="10.2" font-weight="bold" text-anchor="end" fill="#111" transform="rotate(-45 652.64 273.00)"  stroke="#111" stroke-width="0.25">Leukemia other (5)</text>
<text x="670.49" y="273.00" font-size="10.2" font-weight="bold" text-anchor="end" fill="#111" transform="rotate(-45 670.49 273.00)"  stroke="#111" stroke-width="0.25">AML (39)</text>
<text x="688.33" y="273.00" font-size="10.2" font-weight="bold" text-anchor="end" fill="#111" transform="rotate(-45 688.33 273.00)"  stroke="#111" stroke-width="0.25">T-cell ALL (16)</text>
<text x="706.17" y="273.00" font-size="10.2" font-weight="bold" text-anchor="end" fill="#111" transform="rotate(-45 706.17 273.00)"  stroke="#111" stroke-width="0.25">Medulloblastoma (4)</text>
<text x="724.01" y="273.00" font-size="10.2" font-weight="bold" text-anchor="end" fill="#111" transform="rotate(-45 724.01 273.00)"  stroke="#111" stroke-width="0.25">Lymphoma Burkitt (11)</text>
<text x="741.85" y="273.00" font-size="10.2" font-weight="bold" text-anchor="end" fill="#111" transform="rotate(-45 741.85 273.00)"  stroke="#111" stroke-width="0.25">Leukemia Hodgkin (13)</text>
<text x="759.70" y="273.00" font-size="10.2" font-weight="bold" text-anchor="end" fill="#111" transform="rotate(-45 759.70 273.00)"  stroke="#111" stroke-width="0.25">B-cell ALL (13)</text>
<text x="777.54" y="273.00" font-size="10.2" font-weight="bold" text-anchor="end" fill="#111" transform="rotate(-45 777.54 273.00)"  stroke="#111" stroke-width="0.25">Chondrosarcoma (4)</text>
<text x="1.50" y="426.30" font-size="27" font-weight="bold" text-anchor="start" fill="#111" >b</text>
<line x1="85.50" y1="448.60" x2="85.50" y2="657.90" stroke="#111" stroke-width="1.6" />
<line x1="84.70" y1="657.10" x2="399.80" y2="657.10" stroke="#111" stroke-width="1.6" />
<line x1="399.00" y1="657.10" x2="399.00" y2="661.60" stroke="#111" stroke-width="1.5" />
<line x1="81.00" y1="657.10" x2="85.50" y2="657.10" stroke="#111" stroke-width="1.5" />
<text x="70.80" y="661.40" font-size="12.4" font-weight="bold" text-anchor="end" fill="#111"  stroke="#111" stroke-width="0.2">0.0</text>
<line x1="81.00" y1="622.35" x2="85.50" y2="622.35" stroke="#111" stroke-width="1.5" />
<text x="70.80" y="626.65" font-size="12.4" font-weight="bold" text-anchor="end" fill="#111"  stroke="#111" stroke-width="0.2">2.0</text>
<line x1="81.00" y1="587.60" x2="85.50" y2="587.60" stroke="#111" stroke-width="1.5" />
<text x="70.80" y="591.90" font-size="12.4" font-weight="bold" text-anchor="end" fill="#111"  stroke="#111" stroke-width="0.2">4.0</text>
<line x1="81.00" y1="552.85" x2="85.50" y2="552.85" stroke="#111" stroke-width="1.5" />
<text x="70.80" y="557.15" font-size="12.4" font-weight="bold" text-anchor="end" fill="#111"  stroke="#111" stroke-width="0.2">6.0</text>
<line x1="81.00" y1="518.10" x2="85.50" y2="518.10" stroke="#111" stroke-width="1.5" />
<text x="70.80" y="522.40" font-size="12.4" font-weight="bold" text-anchor="end" fill="#111"  stroke="#111" stroke-width="0.2">8.0</text>
<line x1="81.00" y1="483.35" x2="85.50" y2="483.35" stroke="#111" stroke-width="1.5" />
<text x="70.80" y="487.65" font-size="12.4" font-weight="bold" text-anchor="end" fill="#111"  stroke="#111" stroke-width="0.2">10.0</text>
<line x1="81.00" y1="448.60" x2="85.50" y2="448.60" stroke="#111" stroke-width="1.5" />
<text x="70.80" y="452.90" font-size="12.4" font-weight="bold" text-anchor="end" fill="#111"  stroke="#111" stroke-width="0.2">12.0</text>
<text x="28.90" y="552.00" font-size="13.0" font-weight="bold" text-anchor="middle" fill="#111" transform="rotate(-90 28.90 552.00)"  stroke="#111" stroke-width="0.15">Relative FAM188B mRNA expression</text>
<rect x="93.00" y="583.00" width="12.00" height="74.10" fill="#000" stroke="none" stroke-width="1" />
<line x1="99.00" y1="583.00" x2="99.00" y2="581.20" stroke="#000" stroke-width="1.8" />
<line x1="95.30" y1="581.20" x2="102.70" y2="581.20" stroke="#000" stroke-width="1.7" />
<line x1="99.00" y1="657.10" x2="99.00" y2="661.60" stroke="#111" stroke-width="1.5" />
<text x="102.50" y="674.20" font-size="13" font-weight="bold" text-anchor="end" fill="#111" transform="rotate(-45 102.50 674.20)"  stroke="#111" stroke-width="0.15">HCT-116</text>
<rect x="119.10" y="624.20" width="12.00" height="32.90" fill="#000" stroke="none" stroke-width="1" />
<line x1="125.10" y1="624.20" x2="125.10" y2="620.10" stroke="#000" stroke-width="1.8" />
<line x1="121.40" y1="620.10" x2="128.80" y2="620.10" stroke="#000" stroke-width="1.7" />
<line x1="125.10" y1="657.10" x2="125.10" y2="661.60" stroke="#111" stroke-width="1.5" />
<text x="128.60" y="674.20" font-size="13" font-weight="bold" text-anchor="end" fill="#111" transform="rotate(-45 128.60 674.20)"  stroke="#111" stroke-width="0.15">SW620</text>
<rect x="145.20" y="609.20" width="12.00" height="47.90" fill="#000" stroke="none" stroke-width="1" />
<line x1="151.20" y1="609.20" x2="151.20" y2="597.20" stroke="#000" stroke-width="1.8" />
<line x1="147.50" y1="597.20" x2="154.90" y2="597.20" stroke="#000" stroke-width="1.7" />
<line x1="151.20" y1="657.10" x2="151.20" y2="661.60" stroke="#111" stroke-width="1.5" />
<text x="154.70" y="674.20" font-size="13" font-weight="bold" text-anchor="end" fill="#111" transform="rotate(-45 154.70 674.20)"  stroke="#111" stroke-width="0.15">HT-29</text>
<rect x="171.30" y="647.40" width="12.00" height="9.70" fill="#000" stroke="none" stroke-width="1" />
<line x1="177.30" y1="647.40" x2="177.30" y2="634.80" stroke="#000" stroke-width="1.8" />
<line x1="173.60" y1="634.80" x2="181.00" y2="634.80" stroke="#000" stroke-width="1.7" />
<line x1="177.30" y1="657.10" x2="177.30" y2="661.60" stroke="#111" stroke-width="1.5" />
<text x="180.80" y="674.20" font-size="13" font-weight="bold" text-anchor="end" fill="#111" transform="rotate(-45 180.80 674.20)"  stroke="#111" stroke-width="0.15">AGS</text>
<rect x="197.40" y="644.60" width="12.00" height="12.50" fill="#000" stroke="none" stroke-width="1" />
<line x1="203.40" y1="644.60" x2="203.40" y2="639.00" stroke="#000" stroke-width="1.8" />
<line x1="199.70" y1="639.00" x2="207.10" y2="639.00" stroke="#000" stroke-width="1.7" />
<line x1="203.40" y1="657.10" x2="203.40" y2="661.60" stroke="#111" stroke-width="1.5" />
<text x="206.90" y="674.20" font-size="13" font-weight="bold" text-anchor="end" fill="#111" transform="rotate(-45 206.90 674.20)"  stroke="#111" stroke-width="0.15">SNU-638</text>
<rect x="223.50" y="641.60" width="12.00" height="15.50" fill="#000" stroke="none" stroke-width="1" />
<line x1="229.50" y1="641.60" x2="229.50" y2="638.60" stroke="#000" stroke-width="1.8" />
<line x1="225.80" y1="638.60" x2="233.20" y2="638.60" stroke="#000" stroke-width="1.7" />
<line x1="229.50" y1="657.10" x2="229.50" y2="661.60" stroke="#111" stroke-width="1.5" />
<text x="233.00" y="674.20" font-size="13" font-weight="bold" text-anchor="end" fill="#111" transform="rotate(-45 233.00 674.20)"  stroke="#111" stroke-width="0.15">A549</text>
<rect x="249.60" y="619.00" width="12.00" height="38.10" fill="#000" stroke="none" stroke-width="1" />
<line x1="255.60" y1="619.00" x2="255.60" y2="605.20" stroke="#000" stroke-width="1.8" />
<line x1="251.90" y1="605.20" x2="259.30" y2="605.20" stroke="#000" stroke-width="1.7" />
<line x1="255.60" y1="657.10" x2="255.60" y2="661.60" stroke="#111" stroke-width="1.5" />
<text x="259.10" y="674.20" font-size="13" font-weight="bold" text-anchor="end" fill="#111" transform="rotate(-45 259.10 674.20)"  stroke="#111" stroke-width="0.15">U87</text>
<rect x="275.70" y="488.20" width="12.00" height="168.90" fill="#000" stroke="none" stroke-width="1" />
<line x1="281.70" y1="488.20" x2="281.70" y2="482.80" stroke="#000" stroke-width="1.8" />
<line x1="278.00" y1="482.80" x2="285.40" y2="482.80" stroke="#000" stroke-width="1.7" />
<line x1="281.70" y1="657.10" x2="281.70" y2="661.60" stroke="#111" stroke-width="1.5" />
<text x="285.20" y="674.20" font-size="13" font-weight="bold" text-anchor="end" fill="#111" transform="rotate(-45 285.20 674.20)"  stroke="#111" stroke-width="0.15">JIMT1</text>
<rect x="301.80" y="594.40" width="12.00" height="62.70" fill="#000" stroke="none" stroke-width="1" />
<line x1="307.80" y1="594.40" x2="307.80" y2="562.00" stroke="#000" stroke-width="1.8" />
<line x1="304.10" y1="562.00" x2="311.50" y2="562.00" stroke="#000" stroke-width="1.7" />
<line x1="307.80" y1="657.10" x2="307.80" y2="661.60" stroke="#111" stroke-width="1.5" />
<text x="311.30" y="674.20" font-size="13" font-weight="bold" text-anchor="end" fill="#111" transform="rotate(-45 311.30 674.20)"  stroke="#111" stroke-width="0.15">MDA-MB-231</text>
<rect x="327.90" y="641.80" width="12.00" height="15.30" fill="#000" stroke="none" stroke-width="1" />
<line x1="333.90" y1="641.80" x2="333.90" y2="638.80" stroke="#000" stroke-width="1.8" />
<line x1="330.20" y1="638.80" x2="337.60" y2="638.80" stroke="#000" stroke-width="1.7" />
<line x1="333.90" y1="657.10" x2="333.90" y2="661.60" stroke="#111" stroke-width="1.5" />
<text x="337.40" y="674.20" font-size="13" font-weight="bold" text-anchor="end" fill="#111" transform="rotate(-45 337.40 674.20)"  stroke="#111" stroke-width="0.15">HeLa</text>
<rect x="354.00" y="616.60" width="12.00" height="40.50" fill="#000" stroke="none" stroke-width="1" />
<line x1="360.00" y1="616.60" x2="360.00" y2="610.60" stroke="#000" stroke-width="1.8" />
<line x1="356.30" y1="610.60" x2="363.70" y2="610.60" stroke="#000" stroke-width="1.7" />
<line x1="360.00" y1="657.10" x2="360.00" y2="661.60" stroke="#111" stroke-width="1.5" />
<text x="363.50" y="674.20" font-size="13" font-weight="bold" text-anchor="end" fill="#111" transform="rotate(-45 363.50 674.20)"  stroke="#111" stroke-width="0.15">HEK293</text>
<rect x="380.10" y="655.60" width="12.00" height="1.50" fill="#000" stroke="none" stroke-width="1" />
<line x1="386.10" y1="655.60" x2="386.10" y2="654.40" stroke="#000" stroke-width="1.8" />
<line x1="382.40" y1="654.40" x2="389.80" y2="654.40" stroke="#000" stroke-width="1.7" />
<line x1="386.10" y1="657.10" x2="386.10" y2="661.60" stroke="#111" stroke-width="1.5" />
<text x="389.60" y="674.20" font-size="13" font-weight="bold" text-anchor="end" fill="#111" transform="rotate(-45 389.60 674.20)"  stroke="#111" stroke-width="0.15">HDF</text>
<text x="499.00" y="426.30" font-size="27" font-weight="bold" text-anchor="start" fill="#111" >c</text>
<text x="560.90" y="478.00" font-size="13.7" font-weight="bold" text-anchor="start" fill="#111" transform="rotate(-90 560.90 478.00)"  stroke="#111" stroke-width="0.15">HCT-116</text>
<text x="589.70" y="478.00" font-size="13.7" font-weight="bold" text-anchor="start" fill="#111" transform="rotate(-90 589.70 478.00)"  stroke="#111" stroke-width="0.15">SW620</text>
<text x="618.90" y="478.00" font-size="13.7" font-weight="bold" text-anchor="start" fill="#111" transform="rotate(-90 618.90 478.00)"  stroke="#111" stroke-width="0.15">HT-29</text>
<text x="646.90" y="478.00" font-size="13.7" font-weight="bold" text-anchor="start" fill="#111" transform="rotate(-90 646.90 478.00)"  stroke="#111" stroke-width="0.15">AGS</text>
<text x="676.10" y="478.00" font-size="13.7" font-weight="bold" text-anchor="start" fill="#111" transform="rotate(-90 676.10 478.00)"  stroke="#111" stroke-width="0.15">SNU-638</text>
<text x="704.10" y="478.00" font-size="13.7" font-weight="bold" text-anchor="start" fill="#111" transform="rotate(-90 704.10 478.00)"  stroke="#111" stroke-width="0.15">A549</text>
<rect x="540.00" y="485.00" width="172.70" height="28.20" fill="#e5e5e5" stroke="#1c1c1c" stroke-width="1.6" />
<path d="M544.7,501.3 C544.7,498.1 548.2,497.7 551.7,497.7 L563.8,497.7 C567.3,497.7 570.8,498.1 570.8,501.3 C570.8,504.5 567.3,504.9 563.8,504.9 L551.7,504.9 C548.2,504.9 544.7,504.5 544.7,501.3Z" fill="#151515" filter="url(#bl)"/>
<path d="M573.0,501.3 C573.0,498.4 576.5,498.1 580.0,498.1 L590.6,498.1 C594.1,498.1 597.6,498.4 597.6,501.3 C597.6,504.2 594.1,504.5 590.6,504.5 L580.0,504.5 C576.5,504.5 573.0,504.2 573.0,501.3Z" fill="#151515" filter="url(#bl)"/>
<path d="M600.0,500.5 C600.0,497.6 603.5,497.3 607.0,497.3 L617.6,497.3 C621.1,497.3 624.6,497.6 624.6,500.5 C624.6,503.4 621.1,503.7 617.6,503.7 L607.0,503.7 C603.5,503.7 600.0,503.4 600.0,500.5Z" fill="#151515" filter="url(#bl)"/>
<path d="M628.5,500.5 C628.5,498.3 632.0,498.1 635.5,498.1 L645.1,498.1 C648.6,498.1 652.1,498.3 652.1,500.5 C652.1,502.7 648.6,502.9 645.1,502.9 L635.5,502.9 C632.0,502.9 628.5,502.7 628.5,500.5Z" fill="#1c1c1c" filter="url(#bl)"/>
<path d="M655.0,499.3 C655.0,496.0 658.5,495.6 662.0,495.6 L673.1,495.6 C676.6,495.6 680.1,496.0 680.1,499.3 C680.1,502.6 676.6,503.0 673.1,503.0 L662.0,503.0 C658.5,503.0 655.0,502.6 655.0,499.3Z" fill="#151515" filter="url(#bl)"/>
<path d="M682.2,500.5 C682.2,497.6 685.7,497.3 689.2,497.3 L701.3,497.3 C704.8,497.3 708.3,497.6 708.3,500.5 C708.3,503.4 704.8,503.7 701.3,503.7 L689.2,503.7 C685.7,503.7 682.2,503.4 682.2,500.5Z" fill="#151515" filter="url(#bl)"/>
<rect x="540.00" y="519.30" width="172.70" height="28.00" fill="#e5e5e5" stroke="#1c1c1c" stroke-width="1.6" />
<path d="M542.2,535.5 C542.2,530.4 545.7,529.8 549.2,529.8 L565.4,529.8 C568.9,529.8 572.4,530.4 572.4,535.5 C572.4,540.6 568.9,541.2 565.4,541.2 L549.2,541.2 C545.7,541.2 542.2,540.6 542.2,535.5Z" fill="#0a0a0a" filter="url(#bl)"/>
<path d="M569.7,535.5 C569.7,531.3 573.2,530.8 576.7,530.8 L591.3,530.8 C594.8,530.8 598.3,531.3 598.3,535.5 C598.3,539.7 594.8,540.2 591.3,540.2 L576.7,540.2 C573.2,540.2 569.7,539.7 569.7,535.5Z" fill="#0a0a0a" filter="url(#bl)"/>
<path d="M596.7,534.0 C596.7,530.2 600.2,529.8 603.7,529.8 L618.3,529.8 C621.8,529.8 625.3,530.2 625.3,534.0 C625.3,537.8 621.8,538.2 618.3,538.2 L603.7,538.2 C600.2,538.2 596.7,537.8 596.7,534.0Z" fill="#0a0a0a" filter="url(#bl)"/>
<path d="M624.2,533.5 C624.2,529.3 627.7,528.8 631.2,528.8 L646.8,528.8 C650.3,528.8 653.8,529.3 653.8,533.5 C653.8,537.7 650.3,538.2 646.8,538.2 L631.2,538.2 C627.7,538.2 624.2,537.7 624.2,533.5Z" fill="#0a0a0a" filter="url(#bl)"/>
<path d="M652.2,535.0 C652.2,529.9 655.7,529.3 659.2,529.3 L674.8,529.3 C678.3,529.3 681.8,529.9 681.8,535.0 C681.8,540.1 678.3,540.7 674.8,540.7 L659.2,540.7 C655.7,540.7 652.2,540.1 652.2,535.0Z" fill="#0a0a0a" filter="url(#bl)"/>
<path d="M679.7,536.0 C679.7,529.5 683.2,528.8 686.7,528.8 L702.3,528.8 C705.8,528.8 709.3,529.5 709.3,536.0 C709.3,542.5 705.8,543.2 702.3,543.2 L686.7,543.2 C683.2,543.2 679.7,542.5 679.7,536.0Z" fill="#0a0a0a" filter="url(#bl)"/>
<line x1="526.50" y1="490.00" x2="540.00" y2="490.00" stroke="#111" stroke-width="2.5" />
<text x="522.30" y="494.70" font-size="13.5" font-weight="bold" text-anchor="end" fill="#111"  stroke="#111" stroke-width="0.15">100</text>
<line x1="526.50" y1="508.00" x2="540.00" y2="508.00" stroke="#111" stroke-width="2.5" />
<text x="522.30" y="512.70" font-size="13.5" font-weight="bold" text-anchor="end" fill="#111"  stroke="#111" stroke-width="0.15">75</text>
<line x1="526.50" y1="530.00" x2="540.00" y2="530.00" stroke="#111" stroke-width="2.5" />
<text x="522.30" y="534.70" font-size="13.5" font-weight="bold" text-anchor="end" fill="#111"  stroke="#111" stroke-width="0.15">37</text>
<text x="722.50" y="502.20" font-size="13" font-weight="bold" text-anchor="start" fill="#111"  stroke="#111" stroke-width="0.15">FAM188B</text>
<text x="722.50" y="536.40" font-size="13" font-weight="bold" text-anchor="start" fill="#111"  stroke="#111" stroke-width="0.15">GAPDH</text>
<text x="560.80" y="648.00" font-size="13.7" font-weight="bold" text-anchor="start" fill="#111" transform="rotate(-90 560.80 648.00)"  stroke="#111" stroke-width="0.15">U87</text>
<text x="589.70" y="648.00" font-size="13.7" font-weight="bold" text-anchor="start" fill="#111" transform="rotate(-90 589.70 648.00)"  stroke="#111" stroke-width="0.15">JIMT1</text>
<text x="618.10" y="648.00" font-size="13.7" font-weight="bold" text-anchor="start" fill="#111" transform="rotate(-90 618.10 648.00)"  stroke="#111" stroke-width="0.15">MDA-MB-231</text>
<text x="646.50" y="648.00" font-size="13.7" font-weight="bold" text-anchor="start" fill="#111" transform="rotate(-90 646.50 648.00)"  stroke="#111" stroke-width="0.15">HeLa</text>
<text x="675.50" y="648.00" font-size="13.7" font-weight="bold" text-anchor="start" fill="#111" transform="rotate(-90 675.50 648.00)"  stroke="#111" stroke-width="0.15">HEK293</text>
<text x="705.20" y="648.00" font-size="13.7" font-weight="bold" text-anchor="start" fill="#111" transform="rotate(-90 705.20 648.00)"  stroke="#111" stroke-width="0.15">HDF</text>
<rect x="543.20" y="655.50" width="173.00" height="28.00" fill="#e5e5e5" stroke="#1c1c1c" stroke-width="1.6" />
<path d="M545.5,671.8 C545.5,668.9 549.0,668.6 552.5,668.6 L565.1,668.6 C568.6,668.6 572.1,668.9 572.1,671.8 C572.1,674.7 568.6,675.0 565.1,675.0 L552.5,675.0 C549.0,675.0 545.5,674.7 545.5,671.8Z" fill="#151515" filter="url(#bl)"/>
<path d="M574.2,670.0 C574.2,666.0 577.7,665.5 581.2,665.5 L593.8,665.5 C597.3,665.5 600.8,666.0 600.8,670.0 C600.8,674.0 597.3,674.5 593.8,674.5 L581.2,674.5 C577.7,674.5 574.2,674.0 574.2,670.0Z" fill="#111" filter="url(#bl)"/>
<path d="M602.5,670.0 C602.5,667.1 606.0,666.8 609.5,666.8 L620.1,666.8 C623.6,666.8 627.1,667.1 627.1,670.0 C627.1,672.9 623.6,673.2 620.1,673.2 L609.5,673.2 C606.0,673.2 602.5,672.9 602.5,670.0Z" fill="#151515" filter="url(#bl)"/>
<path d="M630.0,669.3 C630.0,666.4 633.5,666.1 637.0,666.1 L647.6,666.1 C651.1,666.1 654.6,666.4 654.6,669.3 C654.6,672.2 651.1,672.5 647.6,672.5 L637.0,672.5 C633.5,672.5 630.0,672.2 630.0,669.3Z" fill="#151515" filter="url(#bl)"/>
<path d="M657.5,670.0 C657.5,666.9 661.0,666.5 664.5,666.5 L675.1,666.5 C678.6,666.5 682.1,666.9 682.1,670.0 C682.1,673.1 678.6,673.5 675.1,673.5 L664.5,673.5 C661.0,673.5 657.5,673.1 657.5,670.0Z" fill="#151515" filter="url(#bl)"/>
<path d="M686.0,669.8 C686.0,668.3 689.5,668.1 693.0,668.1 L700.1,668.1 C703.6,668.1 707.1,668.3 707.1,669.8 C707.1,671.3 703.6,671.5 700.1,671.5 L693.0,671.5 C689.5,671.5 686.0,671.3 686.0,669.8Z" fill="#222" filter="url(#bl)"/>
<rect x="543.20" y="688.00" width="173.00" height="28.80" fill="#e5e5e5" stroke="#1c1c1c" stroke-width="1.6" />
<path d="M548.5,706.3 C548.5,700.3 552.0,699.6 555.5,699.6 L570.8,699.6 C574.3,699.6 577.8,700.3 577.8,706.3 C577.8,712.3 574.3,713.0 570.8,713.0 L555.5,713.0 C552.0,713.0 548.5,712.3 548.5,706.3Z" fill="#0a0a0a" filter="url(#bl)"/>
<path d="M575.2,705.0 C575.2,699.4 578.7,698.8 582.2,698.8 L599.3,698.8 C602.8,698.8 606.3,699.4 606.3,705.0 C606.3,710.6 602.8,711.2 599.3,711.2 L582.2,711.2 C578.7,711.2 575.2,710.6 575.2,705.0Z" fill="#0a0a0a" filter="url(#bl)"/>
<path d="M604.7,704.8 C604.7,700.6 608.2,700.1 611.7,700.1 L626.3,700.1 C629.8,700.1 633.3,700.6 633.3,704.8 C633.3,709.0 629.8,709.5 626.3,709.5 L611.7,709.5 C608.2,709.5 604.7,709.0 604.7,704.8Z" fill="#0a0a0a" filter="url(#bl)"/>
<path d="M632.7,705.5 C632.7,700.8 636.2,700.3 639.7,700.3 L654.8,700.3 C658.3,700.3 661.8,700.8 661.8,705.5 C661.8,710.2 658.3,710.7 654.8,710.7 L639.7,710.7 C636.2,710.7 632.7,710.2 632.7,705.5Z" fill="#0a0a0a" filter="url(#bl)"/>
<path d="M660.7,706.3 C660.7,702.5 664.2,702.1 667.7,702.1 L680.6,702.1 C684.1,702.1 687.6,702.5 687.6,706.3 C687.6,710.1 684.1,710.5 680.6,710.5 L667.7,710.5 C664.2,710.5 660.7,710.1 660.7,706.3Z" fill="#0a0a0a" filter="url(#bl)"/>
<path d="M685.7,706.0 C685.7,701.3 689.2,700.8 692.7,700.8 L703.3,700.8 C706.8,700.8 710.3,701.3 710.3,706.0 C710.3,710.7 706.8,711.2 703.3,711.2 L692.7,711.2 C689.2,711.2 685.7,710.7 685.7,706.0Z" fill="#0a0a0a" filter="url(#bl)"/>
<line x1="530.50" y1="662.50" x2="543.20" y2="662.50" stroke="#111" stroke-width="2.5" />
<text x="526.30" y="667.20" font-size="13.5" font-weight="bold" text-anchor="end" fill="#111"  stroke="#111" stroke-width="0.15">100</text>
<line x1="530.50" y1="680.00" x2="543.20" y2="680.00" stroke="#111" stroke-width="2.5" />
<text x="526.30" y="684.70" font-size="13.5" font-weight="bold" text-anchor="end" fill="#111"  stroke="#111" stroke-width="0.15">75</text>
<line x1="530.50" y1="702.00" x2="543.20" y2="702.00" stroke="#111" stroke-width="2.5" />
<text x="526.30" y="706.70" font-size="13.5" font-weight="bold" text-anchor="end" fill="#111"  stroke="#111" stroke-width="0.15">37</text>
<text x="722.50" y="672.60" font-size="13" font-weight="bold" text-anchor="start" fill="#111"  stroke="#111" stroke-width="0.15">FAM188B</text>
<text x="722.50" y="705.60" font-size="13" font-weight="bold" text-anchor="start" fill="#111"  stroke="#111" stroke-width="0.15">GAPDH</text>
<text x="2.00" y="779.60" font-size="27" font-weight="bold" text-anchor="start" fill="#111" >d</text>
<text x="157.00" y="781.30" font-size="15.4" font-weight="bold" text-anchor="middle" fill="#111"  stroke="#111" stroke-width="0.1">TCGA</text>
<polyline points="117.9,816.6 117.9,807 204.0,807 204.0,816.6" fill="none" stroke="#222" stroke-width="1.3"/>
<text x="160.55" y="806.30" font-size="15.5" font-weight="normal" text-anchor="middle" fill="#111"  stroke="#111" stroke-width="0.3">***</text>
<line x1="73.60" y1="823.60" x2="73.60" y2="1044.50" stroke="#111" stroke-width="1.5" />
<line x1="72.90" y1="1043.80" x2="248.20" y2="1043.80" stroke="#111" stroke-width="1.5" />
<line x1="70.10" y1="1043.80" x2="73.60" y2="1043.80" stroke="#111" stroke-width="1.3" />
<text x="64.10" y="1047.30" font-size="9.8" font-weight="bold" text-anchor="end" fill="#111"  stroke="#111" stroke-width="0.2">0.00</text>
<line x1="70.10" y1="1016.27" x2="73.60" y2="1016.27" stroke="#111" stroke-width="1.3" />
<text x="64.10" y="1019.77" font-size="9.8" font-weight="bold" text-anchor="end" fill="#111"  stroke="#111" stroke-width="0.2">0.50</text>
<line x1="70.10" y1="988.75" x2="73.60" y2="988.75" stroke="#111" stroke-width="1.3" />
<text x="64.10" y="992.25" font-size="9.8" font-weight="bold" text-anchor="end" fill="#111"  stroke="#111" stroke-width="0.2">1.00</text>
<line x1="70.10" y1="961.23" x2="73.60" y2="961.23" stroke="#111" stroke-width="1.3" />
<text x="64.10" y="964.73" font-size="9.8" font-weight="bold" text-anchor="end" fill="#111"  stroke="#111" stroke-width="0.2">1.50</text>
<line x1="70.10" y1="933.70" x2="73.60" y2="933.70" stroke="#111" stroke-width="1.3" />
<text x="64.10" y="937.20" font-size="9.8" font-weight="bold" text-anchor="end" fill="#111"  stroke="#111" stroke-width="0.2">2.00</text>
<line x1="70.10" y1="906.17" x2="73.60" y2="906.17" stroke="#111" stroke-width="1.3" />
<text x="64.10" y="909.67" font-size="9.8" font-weight="bold" text-anchor="end" fill="#111"  stroke="#111" stroke-width="0.2">2.50</text>
<line x1="70.10" y1="878.65" x2="73.60" y2="878.65" stroke="#111" stroke-width="1.3" />
<text x="64.10" y="882.15" font-size="9.8" font-weight="bold" text-anchor="end" fill="#111"  stroke="#111" stroke-width="0.2">3.00</text>
<line x1="70.10" y1="851.12" x2="73.60" y2="851.12" stroke="#111" stroke-width="1.3" />
<text x="64.10" y="854.62" font-size="9.8" font-weight="bold" text-anchor="end" fill="#111"  stroke="#111" stroke-width="0.2">3.50</text>
<line x1="70.10" y1="823.60" x2="73.60" y2="823.60" stroke="#111" stroke-width="1.3" />
<text x="64.10" y="827.10" font-size="9.8" font-weight="bold" text-anchor="end" fill="#111"  stroke="#111" stroke-width="0.2">4.00</text>
<line x1="117.10" y1="1043.80" x2="117.10" y2="1047.10" stroke="#111" stroke-width="1.3" />
<line x1="204.00" y1="1043.80" x2="204.00" y2="1047.10" stroke="#111" stroke-width="1.3" />
<line x1="247.60" y1="1043.80" x2="247.60" y2="1047.10" stroke="#111" stroke-width="1.3" />
<text x="32.80" y="931.80" font-size="15.4" font-weight="bold" text-anchor="middle" fill="#111" transform="rotate(-90 32.80 931.80)"  stroke="#111" stroke-width="0.15">Median-centered Ratio</text>
<rect x="102.50" y="1005.40" width="29.20" height="9.40" fill="#d9d9d9" stroke="#222" stroke-width="1.1" />
<line x1="102.50" y1="1011.80" x2="131.70" y2="1011.80" stroke="#222" stroke-width="1.1" />
<rect x="115.10" y="985.80" width="4.00" height="4.00" fill="#111" stroke="none" stroke-width="1" rx="1"/>
<rect x="115.10" y="1021.20" width="4.00" height="4.00" fill="#111" stroke="none" stroke-width="1" rx="1"/>
<rect x="189.40" y="940.60" width="29.20" height="44.20" fill="#d9d9d9" stroke="#222" stroke-width="1.1" />
<line x1="189.40" y1="966.50" x2="218.60" y2="966.50" stroke="#222" stroke-width="1.1" />
<rect x="202.00" y="849.80" width="4.00" height="4.00" fill="#111" stroke="none" stroke-width="1" rx="1"/>
<rect x="202.00" y="1010.40" width="4.00" height="4.00" fill="#111" stroke="none" stroke-width="1" rx="1"/>
<text x="115.90" y="1059.40" font-size="11.8" font-weight="bold" text-anchor="middle" fill="#111"  stroke="#111" stroke-width="0.15">Colon</text>
<text x="203.00" y="1059.40" font-size="11.8" font-weight="bold" text-anchor="middle" fill="#111"  stroke="#111" stroke-width="0.15">Colon</text>
<text x="206.20" y="1069.60" font-size="12" font-weight="bold" text-anchor="middle" fill="#111"  stroke="#111" stroke-width="0.15">adenocarcinoma</text>
<text x="116.40" y="1094.00" font-size="15.2" font-weight="bold" text-anchor="middle" fill="#111"  stroke="#111" stroke-width="0.1">(n=19)</text>
<text x="204.50" y="1094.00" font-size="15.2" font-weight="bold" text-anchor="middle" fill="#111"  stroke="#111" stroke-width="0.1">(n=101)</text>
<text x="435.80" y="781.30" font-size="15.4" font-weight="bold" text-anchor="middle" fill="#111"  stroke="#111" stroke-width="0.1">GSE20916</text>
<polyline points="392.8,816.6 392.8,807 478.9,807 478.9,816.6" fill="none" stroke="#222" stroke-width="1.3"/>
<text x="435.45" y="806.30" font-size="15.5" font-weight="normal" text-anchor="middle" fill="#111"  stroke="#111" stroke-width="0.3">***</text>
<line x1="348.50" y1="823.60" x2="348.50" y2="1044.50" stroke="#111" stroke-width="1.5" />
<line x1="347.80" y1="1043.80" x2="523.10" y2="1043.80" stroke="#111" stroke-width="1.5" />
<line x1="345.00" y1="1043.80" x2="348.50" y2="1043.80" stroke="#111" stroke-width="1.3" />
<text x="339.00" y="1047.30" font-size="9.8" font-weight="bold" text-anchor="end" fill="#111"  stroke="#111" stroke-width="0.2">0.00</text>
<line x1="345.00" y1="1016.27" x2="348.50" y2="1016.27" stroke="#111" stroke-width="1.3" />
<text x="339.00" y="1019.77" font-size="9.8" font-weight="bold" text-anchor="end" fill="#111"  stroke="#111" stroke-width="0.2">0.50</text>
<line x1="345.00" y1="988.75" x2="348.50" y2="988.75" stroke="#111" stroke-width="1.3" />
<text x="339.00" y="992.25" font-size="9.8" font-weight="bold" text-anchor="end" fill="#111"  stroke="#111" stroke-width="0.2">1.00</text>
<line x1="345.00" y1="961.23" x2="348.50" y2="961.23" stroke="#111" stroke-width="1.3" />
<text x="339.00" y="964.73" font-size="9.8" font-weight="bold" text-anchor="end" fill="#111"  stroke="#111" stroke-width="0.2">1.50</text>
<line x1="345.00" y1="933.70" x2="348.50" y2="933.70" stroke="#111" stroke-width="1.3" />
<text x="339.00" y="937.20" font-size="9.8" font-weight="bold" text-anchor="end" fill="#111"  stroke="#111" stroke-width="0.2">2.00</text>
<line x1="345.00" y1="906.17" x2="348.50" y2="906.17" stroke="#111" stroke-width="1.3" />
<text x="339.00" y="909.67" font-size="9.8" font-weight="bold" text-anchor="end" fill="#111"  stroke="#111" stroke-width="0.2">2.50</text>
<line x1="345.00" y1="878.65" x2="348.50" y2="878.65" stroke="#111" stroke-width="1.3" />
<text x="339.00" y="882.15" font-size="9.8" font-weight="bold" text-anchor="end" fill="#111"  stroke="#111" stroke-width="0.2">3.00</text>
<line x1="345.00" y1="851.12" x2="348.50" y2="851.12" stroke="#111" stroke-width="1.3" />
<text x="339.00" y="854.62" font-size="9.8" font-weight="bold" text-anchor="end" fill="#111"  stroke="#111" stroke-width="0.2">3.50</text>
<line x1="345.00" y1="823.60" x2="348.50" y2="823.60" stroke="#111" stroke-width="1.3" />
<text x="339.00" y="827.10" font-size="9.8" font-weight="bold" text-anchor="end" fill="#111"  stroke="#111" stroke-width="0.2">4.00</text>
<line x1="392.00" y1="1043.80" x2="392.00" y2="1047.10" stroke="#111" stroke-width="1.3" />
<line x1="478.90" y1="1043.80" x2="478.90" y2="1047.10" stroke="#111" stroke-width="1.3" />
<line x1="522.50" y1="1043.80" x2="522.50" y2="1047.10" stroke="#111" stroke-width="1.3" />
<text x="310.30" y="931.80" font-size="15.4" font-weight="bold" text-anchor="middle" fill="#111" transform="rotate(-90 310.30 931.80)"  stroke="#111" stroke-width="0.15">Median-centered Ratio</text>
<rect x="377.40" y="963.50" width="29.20" height="15.50" fill="#d9d9d9" stroke="#222" stroke-width="1.1" />
<line x1="377.40" y1="970.00" x2="406.60" y2="970.00" stroke="#222" stroke-width="1.1" />
<rect x="390.00" y="944.00" width="4.00" height="4.00" fill="#111" stroke="none" stroke-width="1" rx="1"/>
<rect x="390.00" y="995.00" width="4.00" height="4.00" fill="#111" stroke="none" stroke-width="1" rx="1"/>
<rect x="464.30" y="938.50" width="29.20" height="22.00" fill="#d9d9d9" stroke="#222" stroke-width="1.1" />
<line x1="464.30" y1="946.50" x2="493.50" y2="946.50" stroke="#222" stroke-width="1.1" />
<rect x="476.90" y="847.50" width="4.00" height="4.00" fill="#111" stroke="none" stroke-width="1" rx="1"/>
<rect x="476.90" y="975.50" width="4.00" height="4.00" fill="#111" stroke="none" stroke-width="1" rx="1"/>
<text x="389.60" y="1059.40" font-size="11.8" font-weight="bold" text-anchor="middle" fill="#111"  stroke="#111" stroke-width="0.15">Normal</text>
<text x="473.60" y="1059.40" font-size="11.8" font-weight="bold" text-anchor="middle" fill="#111"  stroke="#111" stroke-width="0.15">Colorectal</text>
<text x="477.00" y="1069.60" font-size="12" font-weight="bold" text-anchor="middle" fill="#111"  stroke="#111" stroke-width="0.15">adenocarcinoma</text>
<text x="390.20" y="1094.00" font-size="15.2" font-weight="bold" text-anchor="middle" fill="#111"  stroke="#111" stroke-width="0.1">(n=24)</text>
<text x="477.80" y="1094.00" font-size="15.2" font-weight="bold" text-anchor="middle" fill="#111"  stroke="#111" stroke-width="0.1">(n=45)</text>
<text x="705.20" y="781.30" font-size="15.4" font-weight="bold" text-anchor="middle" fill="#111"  stroke="#111" stroke-width="0.1">GSE20842</text>
<polyline points="666.8,816.6 666.8,807 752.9,807 752.9,816.6" fill="none" stroke="#222" stroke-width="1.3"/>
<text x="709.45" y="806.30" font-size="15.5" font-weight="normal" text-anchor="middle" fill="#111"  stroke="#111" stroke-width="0.3">***</text>
<line x1="622.50" y1="823.60" x2="622.50" y2="1044.50" stroke="#111" stroke-width="1.5" />
<line x1="621.80" y1="1043.80" x2="797.10" y2="1043.80" stroke="#111" stroke-width="1.5" />
<line x1="619.00" y1="1043.80" x2="622.50" y2="1043.80" stroke="#111" stroke-width="1.3" />
<text x="613.00" y="1047.30" font-size="9.8" font-weight="bold" text-anchor="end" fill="#111"  stroke="#111" stroke-width="0.2">0.00</text>
<line x1="619.00" y1="1012.34" x2="622.50" y2="1012.34" stroke="#111" stroke-width="1.3" />
<text x="613.00" y="1015.84" font-size="9.8" font-weight="bold" text-anchor="end" fill="#111"  stroke="#111" stroke-width="0.2">0.50</text>
<line x1="619.00" y1="980.89" x2="622.50" y2="980.89" stroke="#111" stroke-width="1.3" />
<text x="613.00" y="984.39" font-size="9.8" font-weight="bold" text-anchor="end" fill="#111"  stroke="#111" stroke-width="0.2">1.00</text>
<line x1="619.00" y1="949.43" x2="622.50" y2="949.43" stroke="#111" stroke-width="1.3" />
<text x="613.00" y="952.93" font-size="9.8" font-weight="bold" text-anchor="end" fill="#111"  stroke="#111" stroke-width="0.2">1.50</text>
<line x1="619.00" y1="917.97" x2="622.50" y2="917.97" stroke="#111" stroke-width="1.3" />
<text x="613.00" y="921.47" font-size="9.8" font-weight="bold" text-anchor="end" fill="#111"  stroke="#111" stroke-width="0.2">2.00</text>
<line x1="619.00" y1="886.51" x2="622.50" y2="886.51" stroke="#111" stroke-width="1.3" />
<text x="613.00" y="890.01" font-size="9.8" font-weight="bold" text-anchor="end" fill="#111"  stroke="#111" stroke-width="0.2">2.50</text>
<line x1="619.00" y1="855.06" x2="622.50" y2="855.06" stroke="#111" stroke-width="1.3" />
<text x="613.00" y="858.56" font-size="9.8" font-weight="bold" text-anchor="end" fill="#111"  stroke="#111" stroke-width="0.2">3.00</text>
<line x1="619.00" y1="823.60" x2="622.50" y2="823.60" stroke="#111" stroke-width="1.3" />
<text x="613.00" y="827.10" font-size="9.8" font-weight="bold" text-anchor="end" fill="#111"  stroke="#111" stroke-width="0.2">3.50</text>
<line x1="666.00" y1="1043.80" x2="666.00" y2="1047.10" stroke="#111" stroke-width="1.3" />
<line x1="752.90" y1="1043.80" x2="752.90" y2="1047.10" stroke="#111" stroke-width="1.3" />
<line x1="796.50" y1="1043.80" x2="796.50" y2="1047.10" stroke="#111" stroke-width="1.3" />
<text x="584.80" y="931.80" font-size="15.4" font-weight="bold" text-anchor="middle" fill="#111" transform="rotate(-90 584.80 931.80)"  stroke="#111" stroke-width="0.15">Median-centered Ratio</text>
<rect x="651.40" y="1007.00" width="29.20" height="6.50" fill="#d9d9d9" stroke="#222" stroke-width="1.1" />
<line x1="651.40" y1="1011.00" x2="680.60" y2="1011.00" stroke="#222" stroke-width="1.1" />
<rect x="664.00" y="985.00" width="4.00" height="4.00" fill="#111" stroke="none" stroke-width="1" rx="1"/>
<rect x="664.00" y="1015.50" width="4.00" height="4.00" fill="#111" stroke="none" stroke-width="1" rx="1"/>
<rect x="738.30" y="953.00" width="29.20" height="37.50" fill="#d9d9d9" stroke="#222" stroke-width="1.1" />
<line x1="738.30" y1="978.00" x2="767.50" y2="978.00" stroke="#222" stroke-width="1.1" />
<rect x="750.90" y="849.50" width="4.00" height="4.00" fill="#111" stroke="none" stroke-width="1" rx="1"/>
<rect x="750.90" y="1005.50" width="4.00" height="4.00" fill="#111" stroke="none" stroke-width="1" rx="1"/>
<text x="662.70" y="1059.40" font-size="11.8" font-weight="bold" text-anchor="middle" fill="#111"  stroke="#111" stroke-width="0.15">Rectum</text>
<text x="748.80" y="1059.40" font-size="11.8" font-weight="bold" text-anchor="middle" fill="#111"  stroke="#111" stroke-width="0.15">Rectal</text>
<text x="750.70" y="1069.60" font-size="12" font-weight="bold" text-anchor="middle" fill="#111"  stroke="#111" stroke-width="0.15">adenocarcinoma</text>
<text x="664.50" y="1094.00" font-size="15.2" font-weight="bold" text-anchor="middle" fill="#111"  stroke="#111" stroke-width="0.1">(n=65)</text>
<text x="752.90" y="1094.00" font-size="15.2" font-weight="bold" text-anchor="middle" fill="#111"  stroke="#111" stroke-width="0.1">(n=65)</text>
</svg>
</body></html>
